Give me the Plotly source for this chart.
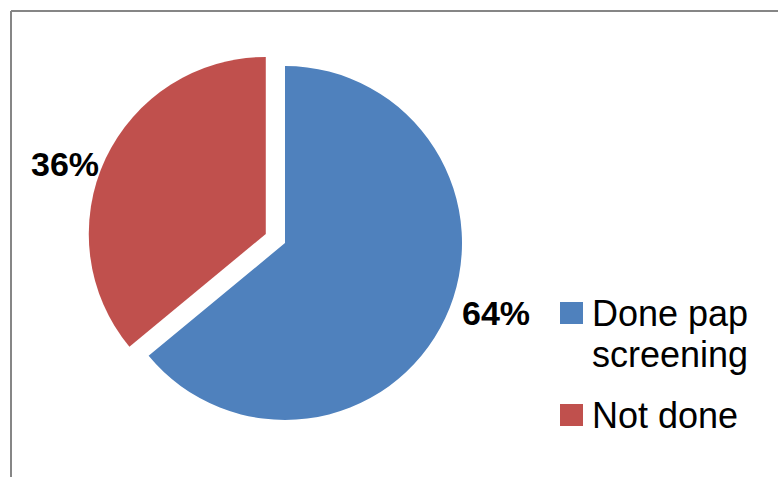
import plotly.graph_objects as go

# Pap screening status
labels = ["Done pap screening", "Not done"]
legend_lines = [["Done pap", "screening"], ["Not done"]]
values = [64, 36]
colors = ["#4F81BD", "#C0504D"]
pulls = [0, 0.12]

W, H = 778, 477


def px(x):
    return x / W


def py(y):
    return 1 - y / H


# pie center and radius in pixels
cx, cy, r = 285, 243, 177
half = r * (1 + max(pulls))

fig = go.Figure()
fig.add_trace(go.Pie(
    labels=labels,
    values=values,
    marker=dict(colors=colors, line=dict(width=0)),
    pull=pulls,
    sort=False,
    direction="clockwise",
    rotation=0,
    textinfo="none",
    hoverinfo="label+percent",
    showlegend=False,
    domain=dict(x=[px(cx - half), px(cx + half)],
                y=[py(cy + half), py(cy - half)]),
))

total = sum(values)
label_pos = [(496, 313), (65, 164)]
annotations = []
for v, (lx, ly) in zip(values, label_pos):
    annotations.append(dict(
        x=px(lx), y=py(ly), xref="paper", yref="paper",
        text=f"{round(100 * v / total)}%", showarrow=False,
        xanchor="center", yanchor="middle",
        font=dict(family="Liberation Sans", size=34, color="black", weight="bold"),
    ))

# legend drawn as squares + text
shapes = []
legend_top = [313, 415]
for lines, col, yc in zip(legend_lines, colors, legend_top):
    shapes.append(dict(type="rect", xref="paper", yref="paper",
                       x0=px(560), x1=px(583), y0=py(yc + 11), y1=py(yc - 11),
                       fillcolor=col, line=dict(width=0)))
    for i, line in enumerate(lines):
        annotations.append(dict(
            x=px(590), y=py(yc + i * 41), xref="paper", yref="paper",
            text=line, showarrow=False, xanchor="left", yanchor="middle",
            font=dict(family="Liberation Sans", size=36, color="black"),
        ))

# chart frame
shapes.append(dict(type="line", xref="paper", yref="paper",
                   x0=px(11), x1=px(11), y0=-0.1, y1=py(11),
                   line=dict(color="#868686", width=2)))
shapes.append(dict(type="line", xref="paper", yref="paper",
                   x0=px(11), x1=1.1, y0=py(11), y1=py(11),
                   line=dict(color="#868686", width=2)))

fig.update_layout(
    width=W, height=H,
    margin=dict(l=0, r=0, t=0, b=0),
    paper_bgcolor="white",
    plot_bgcolor="white",
    annotations=annotations,
    shapes=shapes,
)

fig.write_html("out.html")
